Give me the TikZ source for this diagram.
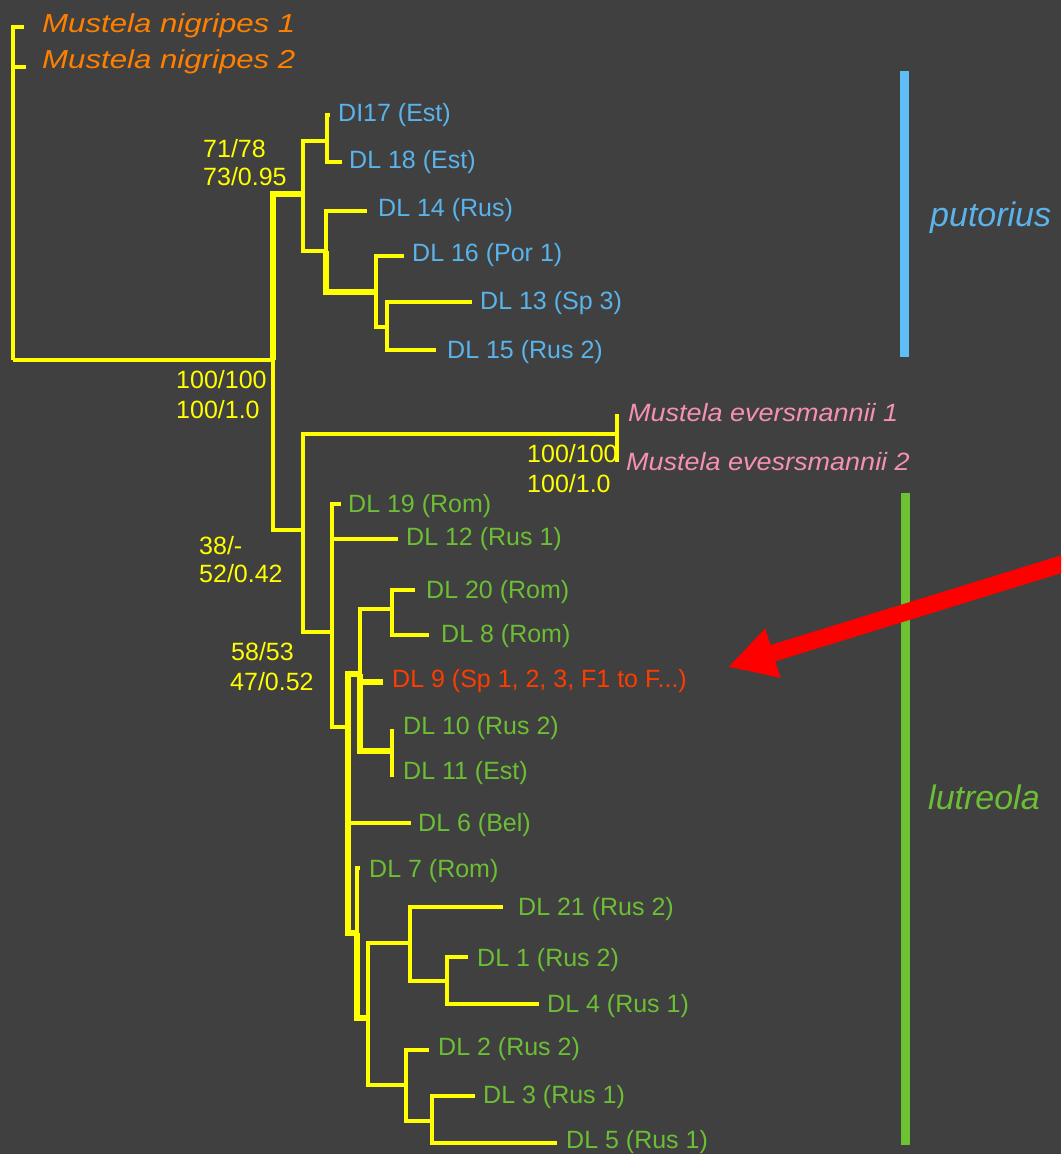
\documentclass[tikz,border=0pt]{standalone}
\usepackage{fontspec}
\setmainfont{Liberation Sans}
\newfontfamily\nigfont[FakeStretch=1.2]{Liberation Sans}
\newfontfamily\evfont[FakeStretch=1.08]{Liberation Sans}
\usetikzlibrary{arrows.meta}
\definecolor{bg}{RGB}{64,64,64}
\definecolor{treeY}{RGB}{255,255,0}
\definecolor{nigO}{RGB}{255,128,0}
\definecolor{blueT}{RGB}{90,180,235}
\definecolor{blueB}{RGB}{95,190,245}
\definecolor{pinkT}{RGB}{245,145,180}
\definecolor{greenT}{RGB}{108,190,52}
\definecolor{greenB}{RGB}{109,194,50}
\definecolor{dlred}{RGB}{255,60,0}
\definecolor{arrowred}{RGB}{255,0,0}
\begin{document}
\begin{tikzpicture}[x=1pt,y=-1pt,
  br/.style={draw=treeY, line width=4pt},
  thk/.style={line width=5.5pt},
  tiplab/.style={anchor=base west, inner sep=0pt, font=\fontsize{25}{30}\selectfont},
  putlab/.style={tiplab, text=blueT},
  lutlab/.style={tiplab, text=greenT},
  nig/.style={anchor=base west, inner sep=0pt, text=nigO, font=\fontsize{26}{30}\nigfont\itshape},
  ev/.style={anchor=base west, inner sep=0pt, text=pinkT, font=\fontsize{25}{30}\evfont\itshape},
  sup/.style={anchor=base west, inner sep=0pt, text=treeY, font=\fontsize{25}{30}\selectfont, align=left},
  grp/.style={anchor=base west, inner sep=0pt, font=\fontsize{34}{40}\selectfont\itshape},
]
\useasboundingbox (0,0) rectangle (1061,1154);
\fill[bg] (0,0) rectangle (1061,1154);
\clip (0,0) rectangle (1061,1154);

% group bars
\coordinate (pbT) at (904.5,71);  \coordinate (pbB) at (904.5,357);
\coordinate (lbT) at (905.5,493); \coordinate (lbB) at (905.5,1145);
\draw[blueB, line width=9pt] (pbT) -- (pbB);
\draw[greenB, line width=9pt] (lbT) -- (lbB);
\node[grp, text=blueT] (putorius) at (930,226) {putorius};
\node[grp, text=greenT] (lutreola) at (928,809) {lutreola};

% ---- tree coordinates
\coordinate (R) at (13,360);
\coordinate (t1) at (24,27);
\coordinate (t2) at (26,67);
\coordinate (P1) at (273,360);
\coordinate (Put) at (303,194);
\coordinate (A1) at (327,141);
\coordinate (A2) at (326,251);
\coordinate (A3) at (376,292);
\coordinate (A4) at (387,327);
\coordinate (tDI17) at (330,115);
\coordinate (tDL18) at (342,162);
\coordinate (tDL14) at (367,211);
\coordinate (tDL16) at (404,256);
\coordinate (tDL13) at (472,302);
\coordinate (tDL15) at (436,350);
\coordinate (Low) at (303,530);
\coordinate (Ev) at (617,434);
\coordinate (ev1) at (617,414);
\coordinate (ev2) at (617,462);
\coordinate (Lu) at (332,632);
\coordinate (tDL19) at (341,504);
\coordinate (tDL12) at (398,539);
\coordinate (B) at (348,727);
\coordinate (C) at (360,674);
\coordinate (tDL6) at (411,823);
\coordinate (Dn) at (357,933);
\coordinate (C1) at (392,609);
\coordinate (tDL9) at (383,682);
\coordinate (C2) at (392,751);
\coordinate (tDL20) at (415,590);
\coordinate (tDL8) at (429,635);
\coordinate (c2a) at (392,729);
\coordinate (c2b) at (392,777);
\coordinate (tDL7) at (360,868);
\coordinate (E) at (368,1018);
\coordinate (F) at (410,943);
\coordinate (G) at (406,1085);
\coordinate (tDL21) at (503,907);
\coordinate (H) at (447,981);
\coordinate (tDL1) at (468,957);
\coordinate (tDL4) at (539,1004);
\coordinate (tDL2) at (429,1050);
\coordinate (I) at (432,1121);
\coordinate (tDL3) at (475,1096);
\coordinate (tDL5) at (557,1143);

% support labels (drawn before the branches)
\node[sup] (s1a) at (203,157) {71/78};
\node[sup] (s1b) at (203,185) {73/0.95};
\node[sup] (s2a) at (176,388) {100/100};
\node[sup] (s2b) at (176,418) {100/1.0};
\node[sup] (s3a) at (199,554) {38/-};
\node[sup] (s3b) at (199,582) {52/0.42};
\node[sup] (s4a) at (231,660) {58/53};
\node[sup] (s4b) at (230,690) {47/0.52};
\node[sup] (s5a) at (527,462) {100/100};
\node[sup] (s5b) at (527,492) {100/1.0};

% ---- branches
\draw[br] (R) |- (t1);
\draw[br] (R) |- (t2);
\draw[br] (R) -- (P1);
\draw[br,thk] (P1) |- (Put);
\draw[br] (P1) |- (Low);
\draw[br] (Put) |- (A1);
\draw[br] (Put) |- (A2);
\draw[br] (A1) |- (tDI17);
\draw[br] (A1) |- (tDL18);
\draw[br] (A2) |- (tDL14);
\draw[br,thk] (A2) |- (A3);
\draw[br] (A3) |- (tDL16);
\draw[br] (A3) |- (A4);
\draw[br] (A4) |- (tDL13);
\draw[br] (A4) |- (tDL15);
\draw[br] (Low) |- (Ev);
\draw[br] (Low) |- (Lu);
\draw[br] (ev1) -- (ev2);
\draw[br] (Lu) |- (tDL19);
\draw[br] (Lu) |- (tDL12);
\draw[br] (Lu) |- (B);
\draw[br,thk] (B) |- (C);
\draw[br] (B) |- (tDL6);
\draw[br,thk] (B) |- (Dn);
\draw[br] (C) |- (C1);
\draw[br,thk] (C) |- (tDL9);
\draw[br,thk] (C) |- (C2);
\draw[br] (C1) |- (tDL20);
\draw[br] (C1) |- (tDL8);
\draw[br] (c2a) -- (c2b);
\draw[br] (Dn) |- (tDL7);
\draw[br,thk] (Dn) |- (E);
\draw[br] (E) |- (F);
\draw[br] (E) |- (G);
\draw[br] (F) |- (tDL21);
\draw[br] (F) |- (H);
\draw[br] (H) |- (tDL1);
\draw[br] (H) |- (tDL4);
\draw[br] (G) |- (tDL2);
\draw[br] (G) |- (I);
\draw[br] (I) |- (tDL3);
\draw[br] (I) |- (tDL5);

% ---- tip labels
\node[nig] (nig1) at (42,32) {Mustela nigripes 1};
\node[nig] (nig2) at (42,68) {Mustela nigripes 2};
\node[putlab] (l17) at (338,121) {DI17 (Est)};
\node[putlab] (l18) at (349,168) {DL 18 (Est)};
\node[putlab] (l14) at (378,216) {DL 14 (Rus)};
\node[putlab] (l16) at (412,261) {DL 16 (Por 1)};
\node[putlab] (l13) at (480,309) {DL 13 (Sp 3)};
\node[putlab] (l15) at (447,358) {DL 15 (Rus 2)};
\node[ev] (ev1l) at (628,421) {Mustela eversmannii 1};
\node[ev] (ev2l) at (626,470) {Mustela evesrsmannii 2};
\node[lutlab] (l19) at (348,512) {DL 19 (Rom)};
\node[lutlab] (l12) at (406,545) {DL 12 (Rus 1)};
\node[lutlab] (l20) at (426,598) {DL 20 (Rom)};
\node[lutlab] (l8) at (441,642) {DL 8 (Rom)};
\node[tiplab, text=dlred] (l9) at (392,687) {DL 9 (Sp 1, 2, 3, F1 to F...)};
\node[lutlab] (l10) at (403,734) {DL 10 (Rus 2)};
\node[lutlab] (l11) at (403,779) {DL 11 (Est)};
\node[lutlab] (l6) at (418,831) {DL 6 (Bel)};
\node[lutlab] (l7) at (369,877) {DL 7 (Rom)};
\node[lutlab] (l21) at (518,915) {DL 21 (Rus 2)};
\node[lutlab] (l1) at (477,966) {DL 1 (Rus 2)};
\node[lutlab] (l4) at (547,1012) {DL 4 (Rus 1)};
\node[lutlab] (l2) at (438,1055) {DL 2 (Rus 2)};
\node[lutlab] (l3) at (483,1103) {DL 3 (Rus 1)};
\node[lutlab] (l5) at (566,1148) {DL 5 (Rus 1)};

% ---- red arrow
\coordinate (arrS) at (1075,560);
\coordinate (arrT) at (728,667);
\draw[arrowred, line width=17pt, -{Triangle[length=47pt,width=48pt]}] (arrS) -- (arrT);
\end{tikzpicture}
\end{document}
